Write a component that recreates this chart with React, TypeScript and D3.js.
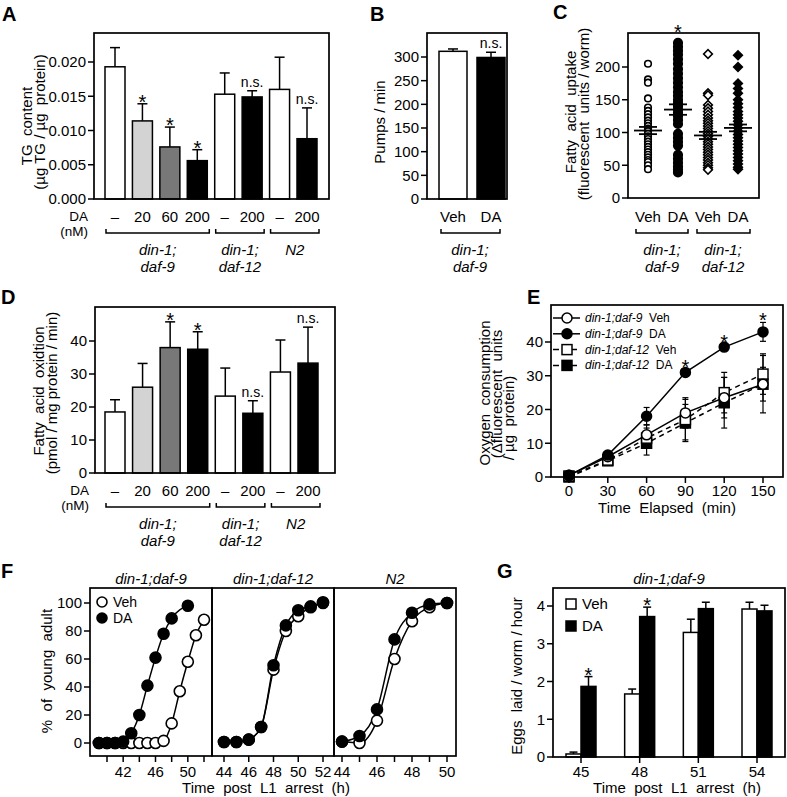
import React from 'react';
import * as d3 from 'd3';

const FONT = '"Liberation Sans", Arial, Helvetica, sans-serif';

// ---- shared dose / strain categories (A, D) ----
const doseLabels = ['–', '20', '60', '200', '–', '200', '–', '200'];
const doseFills = ['#ffffff', '#d3d3d3', '#787878', '#000000', '#ffffff', '#000000', '#ffffff', '#000000'];
const strainLine1 = ['din-1;', 'din-1;', 'N2'];
const strainLine2 = ['daf-9', 'daf-12', ''];
const strainFirst = [0, 4, 6];
const strainLast = [3, 5, 7];

// ---- A: TG content ----
const tgMean = [0.0193, 0.0114, 0.0076, 0.0056, 0.0153, 0.0149, 0.016, 0.0088];
const tgErr = [0.0028, 0.0025, 0.0029, 0.0016, 0.0031, 0.0009, 0.0047, 0.0045];
const tgMarks = ['', '*', '*', '*', '', 'n.s.', '', 'n.s.'];
const tgTicks = [0, 0.005, 0.01, 0.015, 0.02];

// ---- B: pumping ----
const pumpLabels = ['Veh', 'DA'];
const pumpMean = [312, 299];
const pumpErr = [5, 11];
const pumpFills = ['#ffffff', '#000000'];
const pumpTicks = [0, 50, 100, 150, 200, 250, 300];

// ---- C: fatty acid uptake ----
const uptakeLabels = ['Veh', 'DA', 'Veh', 'DA'];
const uptakeDaf9Veh = [205, 181, 176, 152, 138, 133, 128, 123, 118, 114, 110, 106, 102, 98, 94, 90, 86, 82, 78, 74, 70, 66, 62, 58, 55, 50, 44];
const uptakeDaf9DA = [237, 231, 225, 219, 212, 205, 197, 190, 183, 176, 169, 162, 156, 150, 145, 140, 135, 130, 125, 119, 113, 98, 92, 86, 80, 66, 60, 54, 48, 43, 39];
const uptakeDaf12Veh = [220, 160, 157, 142, 137, 132, 127, 122, 118, 114, 110, 106, 102, 98, 94, 90, 86, 82, 78, 74, 70, 66, 62, 58, 54, 50, 46, 43];
const uptakeDaf12DA = [218, 200, 175, 167, 160, 150, 144, 138, 132, 127, 122, 117, 112, 107, 102, 97, 92, 87, 82, 77, 72, 67, 62, 57, 52, 47, 44];
const uptakeMean = [103, 135, 95.5, 107];
const uptakeSem = [5.5, 8, 5.5, 5.2];
const uptakeTicks = [0, 50, 100, 150, 200];

// ---- D: fatty acid oxidation ----
const oxMean = [18.5, 26.0, 38.0, 37.5, 23.3, 18.1, 30.6, 33.3];
const oxErr = [3.7, 7.2, 7.8, 5.3, 8.5, 3.8, 9.7, 10.9];
const oxMarks = ['', '', '*', '*', '', 'n.s.', '', 'n.s.'];
const oxTicks = [0, 10, 20, 30, 40];

// ---- E: oxygen consumption ----
const timeMin = [0, 30, 60, 90, 120, 150];
const o2Daf9Veh = [0.5, 6, 12.5, 19, 23.5, 27.5];
const o2Daf9VehErr = [0.4, 1, 3, 4.5, 6, 5];
const o2Daf9DA = [0.5, 6.5, 18, 31, 38.5, 43];
const o2Daf9DAErr = [0.4, 1, 2.6, 1, 1, 2.8];
const o2Daf12Veh = [0.3, 5, 11.5, 17, 25, 30.5];
const o2Daf12VehErr = [0.3, 1, 3, 6, 6, 6];
const o2Daf12DA = [0, 4.8, 10, 16, 22, 27.5];
const o2Daf12DAErr = [0.3, 1, 3.5, 5.5, 7.5, 8.5];
const o2Marks = ['', '', '', '*', '*', '*'];
const o2Ticks = [0, 10, 20, 30, 40];

// ---- F: development ----
const f1VehHours = [39, 40, 41, 42, 43, 44, 45, 46, 47, 48, 49, 50, 51, 52];
const f1VehPct = [0, 0, 0, 0, 0, 0, 0, 0, 1.5, 14, 37, 58, 77, 88];
const f1DAHours = [39, 40, 41, 42, 43, 44, 45, 46, 47, 48, 50];
const f1DAPct = [0, 0, 0, 1, 7, 20, 41, 61, 78, 89, 98];
const f2Hours = [44, 45, 46, 47, 48, 49, 50, 51, 52];
const f2VehPct = [0.7, 0.7, 2.4, 11.4, 52.4, 80, 90.5, 97, 100];
const f2DAPct = [0.7, 0.7, 2.4, 11.4, 55.5, 84, 94.8, 97.6, 100.5];
const f3Hours = [44, 45, 46, 47, 48, 49, 50];
const f3VehPct = [1, 0, 16, 60, 87, 97, 100];
const f3DAPct = [1, 5, 24, 74, 93, 99, 100];
const fTicks = [0, 20, 40, 60, 80, 100];

// ---- G: egg laying ----
const eggHours = ['45', '48', '51', '54'];
const eggVeh = [0.08, 1.67, 3.3, 3.92];
const eggVehErr = [0.05, 0.13, 0.35, 0.18];
const eggDA = [1.87, 3.72, 3.93, 3.87];
const eggDAErr = [0.26, 0.25, 0.17, 0.15];
const eggMarks = ['*', '*', '', ''];
const eggTicks = [0, 1, 2, 3, 4];

const SW = 1.5;

const YAxis = ({ scale, x, ticks, fmt = (d: number) => String(d), size = 15 }: any) => (
  <g>
    {ticks.map((t: number) => (
      <g key={t}>
        <line x1={x - 6} x2={x} y1={scale(t)} y2={scale(t)} stroke="#000" strokeWidth={SW} />
        <text x={x - 8} y={scale(t)} dy="0.36em" textAnchor="end" fontSize={size}>{fmt(t)}</text>
      </g>
    ))}
  </g>
);

const VText = ({ x, y, children, size = 15 }: any) => (
  <text transform={`translate(${x},${y}) rotate(-90)`} textAnchor="middle" fontSize={size} style={{ whiteSpace: 'pre' }}>{children}</text>
);

const Bracket = ({ x0, x1, y }: any) => (
  <path d={`M${x0},${y - 4}V${y}H${x1}V${y - 4}`} fill="none" stroke="#000" strokeWidth={SW} />
);

const Frame = ({ l, r, t, b }: any) => (
  <rect x={l} y={t} width={r - l} height={b - t} fill="none" stroke="#000" strokeWidth={1.7} />
);

const Mark = ({ x, errY, mark }: any) => {
  if (!mark) return null;
  if (mark === '*') return <text x={x} y={errY + 5} textAnchor="middle" fontSize={20}>*</text>;
  return <text x={x} y={errY - 4} textAnchor="middle" fontSize={14}>{mark}</text>;
};

const ErrUp = ({ x, y0, y1, w = 5 }: any) => (
  <g stroke="#000" strokeWidth={SW}>
    <line x1={x} x2={x} y1={y0} y2={y1} />
    <line x1={x - w} x2={x + w} y1={y1} y2={y1} />
  </g>
);

function DosePanel({ x, y, mean, err, marks, ticks, fmt, frame, yLabels }: any) {
  const bw = 20;
  const b = frame.b;
  return (
    <g>
      {mean.map((m: number, i: number) => {
        const cx = x(i);
        return (
          <g key={i}>
            <ErrUp x={cx} y0={y(m)} y1={y(m + err[i])} />
            <rect x={cx - bw / 2} y={y(m)} width={bw} height={y(0) - y(m)} fill={doseFills[i]} stroke="#000" strokeWidth={SW} />
            <Mark x={cx} errY={y(m + err[i])} mark={marks[i]} />
            <text x={cx} y={b + 23} textAnchor="middle" fontSize={15}>{doseLabels[i]}</text>
          </g>
        );
      })}
      <Frame {...frame} />
      <YAxis scale={y} x={frame.l} ticks={ticks} fmt={fmt} />
      <text x={frame.l - 6} y={b + 22} textAnchor="end" fontSize={13.5}>DA</text>
      <text x={frame.l - 6} y={b + 37} textAnchor="end" fontSize={13.5}>(nM)</text>
      {strainFirst.map((f, g) => {
        const x0 = x(f) - 9;
        const x1 = x(strainLast[g]) + 12;
        const cx = (x0 + x1) / 2;
        return (
          <g key={g}>
            <Bracket x0={x0} x1={x1} y={b + 34} />
            <text x={cx} y={b + 56} textAnchor="middle" fontSize={15} fontStyle="italic">{strainLine1[g]}</text>
            <text x={cx} y={b + 73} textAnchor="middle" fontSize={15} fontStyle="italic">{strainLine2[g]}</text>
          </g>
        );
      })}
      {yLabels.map((l: any, i: number) => (
        <VText key={i} x={l.x} y={l.y}>{l.text}</VText>
      ))}
    </g>
  );
}

const PanelLabel = ({ x, y, children }: any) => (
  <text x={x} y={y} fontSize={20} fontWeight="bold">{children}</text>
);

export default function App() {
  // A
  const yA = d3.scaleLinear().domain([0, 0.02]).range([199, 62]);
  const xA = d3.scalePoint<number>().domain(d3.range(8)).range([115, 307]);
  // B
  const yB = d3.scaleLinear().domain([0, 300]).range([199, 57]);
  const xB = d3.scalePoint<number>().domain(d3.range(2)).range([453, 491]);
  // C
  const yC = d3.scaleLinear().domain([0, 200]).range([198, 67]);
  const xC = d3.scalePoint<number>().domain(d3.range(4)).range([648, 738]);
  // D
  const yD = d3.scaleLinear().domain([0, 40]).range([473, 341]);
  const xD = d3.scalePoint<number>().domain(d3.range(8)).range([115, 308]);
  // E
  const xE = d3.scaleLinear().domain([0, 150]).range([569, 763]);
  const yE = d3.scaleLinear().domain([0, 40]).range([477, 342]);
  // F
  const yF = d3.scaleLinear().domain([0, 100]).range([743, 603]);
  const xF1 = d3.scaleLinear().domain([40, 52]).range([107, 204]);
  const xF2 = d3.scaleLinear().domain([44, 52]).range([224, 323]);
  const xF3 = d3.scaleLinear().domain([44, 50]).range([342, 447]);
  // G
  const yG = d3.scaleLinear().domain([0, 4]).range([757, 606]);
  const xG = d3.scalePoint<number>().domain(d3.range(4)).range([581, 757]);

  const uptakeGroups = [uptakeDaf9Veh, uptakeDaf9DA, uptakeDaf12Veh, uptakeDaf12DA];
  const diamond = d3.symbol().type(d3.symbolSquare).size(38)();

  const eSeries = [
    { v: o2Daf12DA, e: o2Daf12DAErr, shape: 'square', fill: '#000', dash: '5,4', name: 'din-1;daf-12', tr: 'DA' },
    { v: o2Daf12Veh, e: o2Daf12VehErr, shape: 'square', fill: '#fff', dash: '5,4', name: 'din-1;daf-12', tr: 'Veh' },
    { v: o2Daf9Veh, e: o2Daf9VehErr, shape: 'circle', fill: '#fff', dash: null, name: 'din-1;daf-9', tr: 'Veh' },
    { v: o2Daf9DA, e: o2Daf9DAErr, shape: 'circle', fill: '#000', dash: null, name: 'din-1;daf-9', tr: 'DA' },
  ];
  const legendOrder = [2, 3, 1, 0];
  const lineE = (vals: number[]) =>
    d3.line<number>().x((_, i) => xE(timeMin[i])).y((d) => yE(d))(vals) || '';

  const marker = (shape: string, x: number, y: number, fill: string, k: any) =>
    shape === 'circle' ? (
      <circle key={k} cx={x} cy={y} r={5} fill={fill} stroke="#000" strokeWidth={SW} />
    ) : (
      <rect key={k} x={x - 5} y={y - 5} width={10} height={10} fill={fill} stroke="#000" strokeWidth={SW} />
    );

  const fPanels = [
    { xs: xF1, series: [{ h: f1VehHours, p: f1VehPct, fill: '#fff' }, { h: f1DAHours, p: f1DAPct, fill: '#000' }], l: 90, r: 212, ticks: [40, 42, 44, 46, 48, 50, 52], labels: [42, 46, 50], title: 'din-1;daf-9' },
    { xs: xF2, series: [{ h: f2Hours, p: f2VehPct, fill: '#fff' }, { h: f2Hours, p: f2DAPct, fill: '#000' }], l: 212, r: 334, ticks: [44, 46, 48, 50, 52], labels: [44, 46, 48, 50, 52], title: 'din-1;daf-12' },
    { xs: xF3, series: [{ h: f3Hours, p: f3VehPct, fill: '#fff' }, { h: f3Hours, p: f3DAPct, fill: '#000' }], l: 334, r: 456, ticks: [44, 45, 46, 47, 48, 49, 50], labels: [44, 46, 48, 50], title: 'N2' },
  ];

  return (
    <svg width={787} height={797} style={{ position: 'absolute', left: 0, top: 0, background: '#fff' }} fontFamily={FONT}>
      {/* A */}
      <PanelLabel x={2} y={21}>A</PanelLabel>
      <DosePanel
        x={xA} y={yA} mean={tgMean} err={tgErr} marks={tgMarks} ticks={tgTicks}
        fmt={(d: number) => d3.format('.3f')(d)}
        frame={{ l: 94, r: 329, t: 33, b: 199 }}
        yLabels={[{ x: 32, y: 126, text: 'TG  content' }, { x: 45, y: 122, text: '(µg TG / µg  protein)' }]}
      />

      {/* B */}
      <PanelLabel x={370} y={21}>B</PanelLabel>
      {pumpMean.map((m, i) => (
        <g key={i}>
          <ErrUp x={xB(i)} y0={yB(m)} y1={yB(m + pumpErr[i])} />
          <rect x={xB(i)! - 14} y={yB(m)} width={28} height={yB(0) - yB(m)} fill={pumpFills[i]} stroke="#000" strokeWidth={SW} />
          <text x={xB(i)} y={222} textAnchor="middle" fontSize={15}>{pumpLabels[i]}</text>
        </g>
      ))}
      <Mark x={xB(1)} errY={yB(pumpMean[1] + pumpErr[1])} mark="n.s." />
      <Frame l={427} r={507} t={33} b={199} />
      <YAxis scale={yB} x={427} ticks={pumpTicks} />
      <Bracket x0={441} x1={500} y={233} />
      <text x={470} y={255} textAnchor="middle" fontSize={15} fontStyle="italic">din-1;</text>
      <text x={470} y={272} textAnchor="middle" fontSize={15} fontStyle="italic">daf-9</text>
      <VText x={385} y={122}>Pumps / min</VText>

      {/* C */}
      <PanelLabel x={553} y={19}>C</PanelLabel>
      {uptakeGroups.map((vals, g) => (
        <g key={g}>
          {vals.map((v, i) =>
            g < 2 ? (
              <circle key={i} cx={xC(g)} cy={yC(v)} r={g === 0 ? 3.3 : 4.3} fill={g === 0 ? '#fff' : '#000'} stroke="#000" strokeWidth={1.6} />
            ) : (
              <path key={i} d={diamond} transform={`translate(${xC(g)},${yC(v)}) rotate(45)`} fill={g === 2 ? '#fff' : '#000'} stroke="#000" strokeWidth={1.6} />
            )
          )}
          <g stroke="#000" strokeWidth={1.8}>
            <line x1={xC(g)! - 14} x2={xC(g)! + 14} y1={yC(uptakeMean[g])} y2={yC(uptakeMean[g])} />
            <line x1={xC(g)! - 9} x2={xC(g)! + 9} y1={yC(uptakeMean[g] + uptakeSem[g])} y2={yC(uptakeMean[g] + uptakeSem[g])} />
            <line x1={xC(g)! - 9} x2={xC(g)! + 9} y1={yC(uptakeMean[g] - uptakeSem[g])} y2={yC(uptakeMean[g] - uptakeSem[g])} />
          </g>
          <text x={xC(g)} y={222} textAnchor="middle" fontSize={15}>{uptakeLabels[g]}</text>
        </g>
      ))}
      <text x={xC(1)} y={39} textAnchor="middle" fontSize={20}>*</text>
      <Frame l={628} r={759} t={33} b={198} />
      <YAxis scale={yC} x={628} ticks={uptakeTicks} />
      <Bracket x0={636} x1={688} y={233} />
      <Bracket x0={697} x1={750} y={233} />
      <text x={662} y={255} textAnchor="middle" fontSize={15} fontStyle="italic">din-1;</text>
      <text x={662} y={272} textAnchor="middle" fontSize={15} fontStyle="italic">daf-9</text>
      <text x={723} y={255} textAnchor="middle" fontSize={15} fontStyle="italic">din-1;</text>
      <text x={723} y={272} textAnchor="middle" fontSize={15} fontStyle="italic">daf-12</text>
      <VText x={576} y={112}>Fatty  acid  uptake</VText>
      <VText x={589} y={114}>(fluorescent  units / worm)</VText>

      {/* D */}
      <PanelLabel x={1} y={304}>D</PanelLabel>
      <DosePanel
        x={xD} y={yD} mean={oxMean} err={oxErr} marks={oxMarks} ticks={oxTicks}
        fmt={(d: number) => String(d)}
        frame={{ l: 95, r: 335, t: 307, b: 473 }}
        yLabels={[{ x: 44, y: 391, text: 'Fatty  acid  oxidtion' }, { x: 57, y: 393, text: '(pmol / mg protein / min)' }]}
      />

      {/* E */}
      <PanelLabel x={527} y={304}>E</PanelLabel>
      {eSeries.map((s, k) => (
        <path key={k} d={lineE(s.v)} fill="none" stroke="#000" strokeWidth={SW} strokeDasharray={s.dash || undefined} />
      ))}
      {eSeries.map((s, k) => (
        <g key={k}>
          {s.v.map((v, i) => (
            <g key={i} stroke="#000" strokeWidth={1.2}>
              <line x1={xE(timeMin[i])} x2={xE(timeMin[i])} y1={yE(v - s.e[i])} y2={yE(v + s.e[i])} />
              <line x1={xE(timeMin[i]) - 3} x2={xE(timeMin[i]) + 3} y1={yE(v - s.e[i])} y2={yE(v - s.e[i])} />
              <line x1={xE(timeMin[i]) - 3} x2={xE(timeMin[i]) + 3} y1={yE(v + s.e[i])} y2={yE(v + s.e[i])} />
            </g>
          ))}
        </g>
      ))}
      {eSeries.map((s, k) => (
        <g key={k}>{s.v.map((v, i) => marker(s.shape, xE(timeMin[i]), yE(v), s.fill, i))}</g>
      ))}
      {o2Marks.map((m, i) => (
        <Mark key={i} x={xE(timeMin[i])} errY={yE(o2Daf9DA[i] + o2Daf9DAErr[i])} mark={m} />
      ))}
      {legendOrder.map((si, r) => {
        const s = eSeries[si];
        const ly = 318 + r * 15.8;
        return (
          <g key={r}>
            <line x1={553} x2={580} y1={ly} y2={ly} stroke="#000" strokeWidth={SW} strokeDasharray={s.dash ? '6,3' : undefined} />
            {marker(s.shape, 567, ly, s.fill, 'm')}
            <text x={585} y={ly + 4} fontSize={12} style={{ whiteSpace: 'pre' }}>
              <tspan fontStyle="italic">{s.name}</tspan>
              <tspan>{'  ' + s.tr}</tspan>
            </text>
          </g>
        );
      })}
      <Frame l={551} r={783} t={305} b={477} />
      <YAxis scale={yE} x={551} ticks={o2Ticks} />
      {timeMin.map((t) => (
        <g key={t}>
          <line x1={xE(t)} x2={xE(t)} y1={477} y2={483} stroke="#000" strokeWidth={SW} />
          <text x={xE(t)} y={496} textAnchor="middle" fontSize={15}>{t}</text>
        </g>
      ))}
      <text x={667} y={513} textAnchor="middle" fontSize={15} style={{ whiteSpace: 'pre' }}>Time  Elapsed  (min)</text>
      <VText x={490} y={393}>Oxygen  consumption</VText>
      <VText x={502} y={394}>(Δfluorescent  units</VText>
      <VText x={514} y={418}>/ µg  protein)</VText>

      {/* F */}
      <PanelLabel x={1} y={578}>F</PanelLabel>
      {fPanels.map((p, k) => {
        const ln = d3.line<number>().curve(d3.curveMonotoneX);
        return (
          <g key={k}>
            {p.series.map((s, j) => (
              <path key={j} d={ln(s.h.map((h, i) => [p.xs(h), yF(s.p[i])]) as any) || ''} fill="none" stroke="#000" strokeWidth={SW} />
            ))}
            {p.series.map((s, j) => (
              <g key={j}>
                {s.h.map((h, i) => (
                  <circle key={i} cx={p.xs(h)} cy={yF(s.p[i])} r={5.5} fill={s.fill} stroke="#000" strokeWidth={1.6} />
                ))}
              </g>
            ))}
            {p.ticks.map((t) => (
              <line key={t} x1={p.xs(t)} x2={p.xs(t)} y1={756} y2={762} stroke="#000" strokeWidth={SW} />
            ))}
            {p.labels.map((t) => (
              <text key={t} x={p.xs(t)} y={777} textAnchor="middle" fontSize={15}>{t}</text>
            ))}
            <text x={(p.l + p.r) / 2} y={584} textAnchor="middle" fontSize={15} fontStyle="italic">{p.title}</text>
            <rect x={p.l} y={588} width={p.r - p.l} height={168} fill="none" stroke="#000" strokeWidth={1.7} />
          </g>
        );
      })}
      <YAxis scale={yF} x={90} ticks={fTicks} />
      <circle cx={102} cy={602} r={5} fill="#fff" stroke="#000" strokeWidth={1.6} />
      <text x={113} y={607} fontSize={14}>Veh</text>
      <circle cx={102} cy={618} r={5} fill="#000" stroke="#000" strokeWidth={1.6} />
      <text x={113} y={623} fontSize={14}>DA</text>
      <text x={266} y={793} textAnchor="middle" fontSize={15} style={{ whiteSpace: 'pre' }}>Time  post  L1  arrest  (h)</text>
      <VText x={52} y={671}>%  of  young  adult</VText>

      {/* G */}
      <PanelLabel x={497} y={578}>G</PanelLabel>
      {eggHours.map((h, i) => {
        const cx = xG(i)!;
        return (
          <g key={h}>
            <ErrUp x={cx - 7.5} y0={yG(eggVeh[i])} y1={yG(eggVeh[i] + eggVehErr[i])} w={4} />
            <ErrUp x={cx + 7.5} y0={yG(eggDA[i])} y1={yG(eggDA[i] + eggDAErr[i])} w={4} />
            <rect x={cx - 15} y={yG(eggVeh[i])} width={15} height={yG(0) - yG(eggVeh[i])} fill="#fff" stroke="#000" strokeWidth={SW} />
            <rect x={cx} y={yG(eggDA[i])} width={15} height={yG(0) - yG(eggDA[i])} fill="#000" stroke="#000" strokeWidth={SW} />
            <Mark x={cx + 7.5} errY={yG(eggDA[i] + eggDAErr[i])} mark={eggMarks[i]} />
            <line x1={cx} x2={cx} y1={757} y2={763} stroke="#000" strokeWidth={SW} />
            <text x={cx} y={777} textAnchor="middle" fontSize={15}>{h}</text>
          </g>
        );
      })}
      <Frame l={553} r={785} t={588} b={757} />
      <YAxis scale={yG} x={553} ticks={eggTicks} />
      <rect x={566} y={599} width={10} height={10} fill="#fff" stroke="#000" strokeWidth={SW} />
      <text x={582} y={609} fontSize={15}>Veh</text>
      <rect x={566} y={621} width={10} height={10} fill="#000" stroke="#000" strokeWidth={SW} />
      <text x={582} y={631} fontSize={15}>DA</text>
      <text x={669} y={584} textAnchor="middle" fontSize={15} fontStyle="italic">din-1;daf-9</text>
      <text x={677} y={793} textAnchor="middle" fontSize={15} style={{ whiteSpace: 'pre' }}>Time  post  L1  arrest  (h)</text>
      <VText x={522} y={676}>Eggs  laid / worm / hour</VText>
    </svg>
  );
}
